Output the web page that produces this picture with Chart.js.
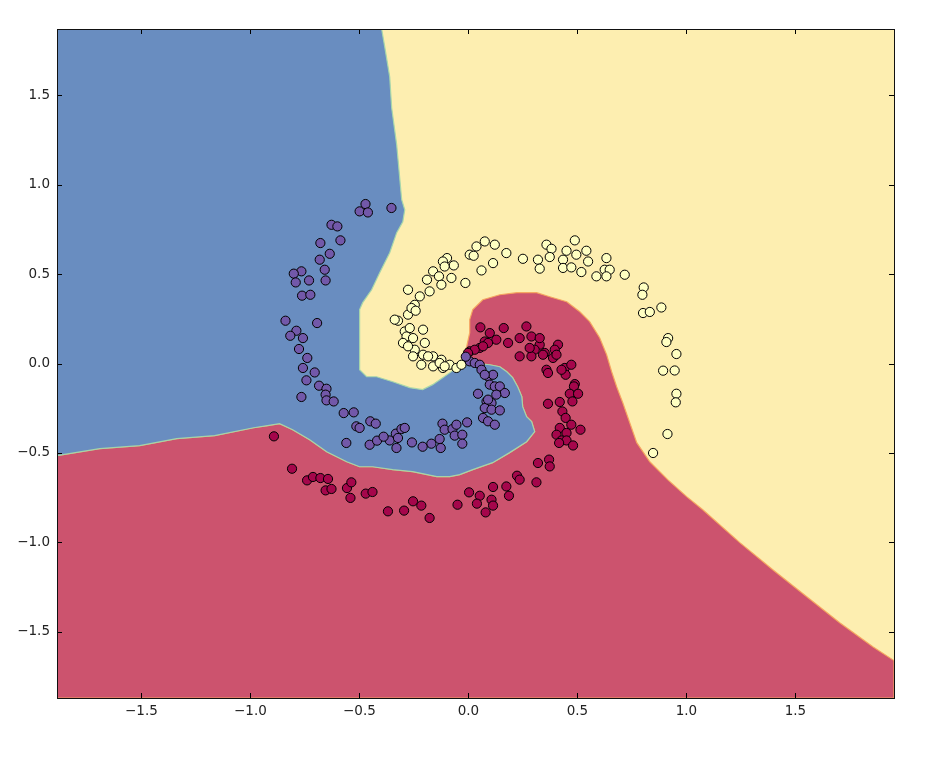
<!DOCTYPE html>
<html><head><meta charset="utf-8">
<script src="https://cdn.jsdelivr.net/npm/chart.js@4/dist/chart.umd.min.js"></script>
<style>html,body{margin:0;padding:0;background:#fff}#wrap{width:927px;height:760px;position:relative}</style>
</head><body><div id="wrap"><canvas id="c"></canvas></div>
<script>
// ---- axes ----
const xRange = [-1.887, 1.952];
const yRange = [-1.869, 1.869];
const xTicks = [-1.5, -1.0, -0.5, 0.0, 0.5, 1.0, 1.5];
const xTickLabels = ['\u22121.5', '\u22121.0', '\u22120.5', '0.0', '0.5', '1.0', '1.5'];
const yTicks = [-1.5, -1.0, -0.5, 0.0, 0.5, 1.0, 1.5];
const yTickLabels = ['\u22121.5', '\u22121.0', '\u22120.5', '0.0', '0.5', '1.0', '1.5'];

// ---- decision boundaries ----
const blueYellowBoundary = [
  [-0.398, 1.869], [-0.384, 1.770], [-0.361, 1.602], [-0.352, 1.429], [-0.329, 1.222],
  [-0.306, 0.915], [-0.292, 0.859], [-0.301, 0.792], [-0.329, 0.731], [-0.361, 0.619],
  [-0.407, 0.507], [-0.444, 0.412], [-0.485, 0.340], [-0.499, 0.301], [-0.499, -0.035],
  [-0.467, -0.074], [-0.421, -0.074], [-0.347, -0.102], [-0.269, -0.135], [-0.210, -0.146],
  [-0.164, -0.118], [-0.118, -0.079], [-0.072, -0.040], [-0.026, 0.021]
];
const blueRedBoundary = [
  [0.006, 0.004], [0.098, -0.007], [0.144, -0.018], [0.176, -0.046], [0.203, -0.079],
  [0.226, -0.130], [0.245, -0.185], [0.249, -0.241], [0.267, -0.297], [0.290, -0.325],
  [0.304, -0.381], [0.267, -0.437], [0.189, -0.498], [0.111, -0.554], [0.020, -0.593],
  [-0.040, -0.621], [-0.086, -0.632], [-0.145, -0.632], [-0.256, -0.604], [-0.347, -0.593],
  [-0.439, -0.577], [-0.499, -0.577], [-0.558, -0.549], [-0.650, -0.493], [-0.728, -0.426],
  [-0.806, -0.370], [-0.866, -0.336], [-0.921, -0.347], [-0.985, -0.359], [-1.164, -0.403],
  [-1.338, -0.420], [-1.508, -0.459], [-1.691, -0.476], [-1.887, -0.515]
];
const redYellowBoundary = [
  [-0.026, 0.032], [-0.008, 0.094], [0.006, 0.172], [0.006, 0.245], [0.020, 0.301],
  [0.066, 0.356], [0.144, 0.384], [0.222, 0.396], [0.313, 0.396], [0.373, 0.373],
  [0.451, 0.345], [0.511, 0.289], [0.556, 0.234], [0.602, 0.144], [0.634, 0.049],
  [0.657, -0.046], [0.680, -0.130], [0.708, -0.219], [0.740, -0.331], [0.772, -0.442],
  [0.832, -0.549], [0.914, -0.649], [1.001, -0.744], [1.075, -0.817], [1.245, -1.001],
  [1.396, -1.152], [1.552, -1.303], [1.703, -1.448], [1.855, -1.582], [1.952, -1.660]
];

// ---- samples ----
const purplePoints = [
  [-0.472,0.891],[-0.499,0.850],[-0.461,0.844],[-0.353,0.869],
  [-0.628,0.775],[-0.601,0.766],[-0.587,0.688],[-0.679,0.673],
  [-0.636,0.613],[-0.682,0.580],[-0.659,0.524],[-0.766,0.515],
  [-0.801,0.502],[-0.792,0.453],[-0.731,0.464],[-0.655,0.464],
  [-0.763,0.379],[-0.725,0.384],[-0.839,0.239],[-0.694,0.226],
  [-0.789,0.183],[-0.817,0.155],[-0.759,0.142],[-0.777,0.081],
  [-0.739,0.031],[-0.759,-0.025],[-0.705,-0.050],[-0.743,-0.094],
  [-0.685,-0.124],[-0.651,-0.141],[-0.655,-0.174],[-0.651,-0.206],
  [-0.618,-0.212],[-0.766,-0.187],[-0.572,-0.277],[-0.526,-0.273],
  [-0.514,-0.351],[-0.499,-0.360],[-0.450,-0.323],[-0.425,-0.336],
  [-0.560,-0.444],[-0.453,-0.454],[-0.419,-0.431],[-0.361,-0.430],
  [-0.333,-0.392],[-0.323,-0.416],[-0.330,-0.472],[-0.307,-0.366],
  [-0.292,-0.360],[-0.259,-0.441],[-0.170,-0.448],[-0.132,-0.422],
  [-0.127,-0.472],[-0.119,-0.336],[-0.109,-0.370],[-0.073,-0.366],
  [-0.063,-0.403],[-0.055,-0.342],[-0.028,-0.398],[-0.028,-0.448],
  [-0.006,-0.329],[0.044,-0.169],[0.090,-0.072],[0.113,-0.063],
  [0.098,-0.118],[0.121,-0.128],[0.144,-0.128],[0.167,-0.165],
  [0.128,-0.174],[0.083,-0.212],[0.106,-0.221],[0.075,-0.249],
  [0.106,-0.258],[0.144,-0.262],[0.067,-0.304],[0.090,-0.323],
  [0.121,-0.342],[0.006,0.012],[0.029,0.003],[0.052,-0.007],
  [0.060,-0.035],[0.075,-0.063],[-0.012,0.038],[0.090,-0.202],
  [-0.210,-0.465],[-0.389,-0.409]
];
const yellowPoints = [
  [0.075,0.682],[0.037,0.654],[0.121,0.664],[0.174,0.617],[0.006,0.608],
  [0.024,0.602],[-0.098,0.589],[-0.117,0.570],[-0.067,0.548],[-0.109,0.542],
  [0.060,0.520],[0.113,0.561],[-0.162,0.515],[-0.190,0.468],[-0.135,0.487],
  [-0.078,0.478],[-0.124,0.440],[-0.014,0.450],[-0.178,0.403],[-0.277,0.412],
  [-0.223,0.375],[-0.246,0.328],[-0.277,0.273],[-0.261,0.310],[-0.242,0.295],
  [-0.323,0.239],[-0.338,0.245],[-0.292,0.179],[-0.269,0.198],[-0.208,0.189],
  [-0.284,0.151],[-0.254,0.142],[-0.200,0.115],[-0.300,0.115],[-0.246,0.077],
  [-0.208,0.049],[-0.254,0.040],[-0.162,0.040],[-0.124,0.021],[-0.086,-0.007],
  [-0.055,-0.025],[-0.216,-0.007],[-0.162,-0.016],[-0.117,-0.025],[-0.032,-0.007],
  [-0.277,0.096],[-0.185,0.040],[-0.132,0.003],[-0.109,-0.016],
  [0.250,0.585],[0.319,0.580],[0.358,0.664],[0.381,0.641],[0.373,0.595],
  [0.327,0.530],[0.434,0.580],[0.450,0.630],[0.488,0.688],[0.495,0.608],
  [0.541,0.630],[0.549,0.570],[0.434,0.534],[0.472,0.537],[0.518,0.511],
  [0.587,0.487],[0.633,0.589],[0.625,0.524],[0.648,0.524],[0.633,0.487],
  [0.717,0.496],[0.804,0.425],[0.798,0.384],[0.801,0.282],[0.832,0.288],
  [0.885,0.313],[0.916,0.142],[0.908,0.120],[0.954,0.053],[0.893,-0.040],
  [0.946,-0.039],[0.954,-0.169],[0.951,-0.217],[0.913,-0.394],[0.847,-0.500]
];
const redPoints = [
  [0.055,0.202],[0.098,0.170],[0.162,0.198],[0.266,0.207],[0.289,0.151],
  [0.235,0.142],[0.128,0.133],[0.075,0.123],[0.182,0.115],[0.052,0.087],
  [0.006,0.068],[0.029,0.077],[0.327,0.105],[0.411,0.105],[0.396,0.077],
  [0.350,0.059],[0.304,0.077],[0.235,0.040],[0.289,0.040],[0.388,0.031],
  [0.358,-0.035],[0.365,-0.053],[0.442,-0.025],[0.472,-0.007],[0.446,-0.063],
  [0.488,-0.115],[0.090,0.115],[0.067,0.096],[-0.002,0.059],[0.327,0.142],
  [0.281,0.087],[0.404,0.049],[0.342,0.049],[0.427,-0.035],[0.484,-0.128],
  [0.465,-0.169],[0.503,-0.169],[0.477,-0.212],[0.419,-0.215],[0.365,-0.225],
  [0.431,-0.268],[0.446,-0.304],[0.472,-0.342],[0.514,-0.370],[0.419,-0.360],
  [0.404,-0.398],[0.450,-0.388],[0.427,-0.430],[0.450,-0.430],[0.480,-0.458],
  [0.416,-0.444],[0.370,-0.537],[0.319,-0.556],[0.373,-0.575],[0.223,-0.627],
  [0.235,-0.649],[0.312,-0.664],[0.003,-0.720],[0.052,-0.739],[0.113,-0.690],
  [0.174,-0.687],[0.186,-0.739],[0.106,-0.761],[0.039,-0.783],[0.113,-0.794],
  [0.079,-0.832],[-0.892,-0.407],[-0.809,-0.588],[-0.740,-0.653],[-0.713,-0.634],
  [-0.679,-0.640],[-0.644,-0.645],[-0.655,-0.709],[-0.628,-0.701],[-0.557,-0.696],
  [-0.537,-0.664],[-0.541,-0.751],[-0.471,-0.727],[-0.440,-0.718],[-0.369,-0.826],
  [-0.295,-0.822],[-0.254,-0.770],[-0.216,-0.794],[-0.178,-0.863],[-0.050,-0.789]
];

// ---- colours ----
const C_YELLOW_REGION = '#fdeeb0';
const C_BLUE_REGION = '#698dc0';
const C_RED_REGION = '#cc536e';

const toXY = arr => arr.map(([x, y]) => ({x, y}));
const bluePolygon = [[xRange[0], yRange[1]], ...blueYellowBoundary, ...blueRedBoundary, [xRange[0], yRange[1]]];
const redPolygon = [[xRange[0], yRange[0]], ...blueRedBoundary.slice().reverse(), ...redYellowBoundary,
  [xRange[1], yRange[0]], [xRange[0], yRange[0]]];

const bgPlugin = {
  id: 'bg',
  beforeDatasetsDraw(chart) {
    const {ctx, chartArea: a} = chart;
    ctx.save();
    ctx.fillStyle = C_YELLOW_REGION;
    ctx.fillRect(a.left, a.top, a.right - a.left, a.bottom - a.top);
    ctx.restore();
  }
};
const framePlugin = {
  id: 'frame',
  afterDraw(chart) {
    const {ctx, chartArea: a, scales} = chart;
    ctx.save();
    ctx.strokeStyle = '#000';
    ctx.lineWidth = 1;
    const L = 5;
    ctx.beginPath();
    xTicks.forEach(v => {
      const px = Math.round(scales.x.getPixelForValue(v)) + 0.5;
      ctx.moveTo(px, a.bottom); ctx.lineTo(px, a.bottom - L);
      ctx.moveTo(px, a.top); ctx.lineTo(px, a.top + L);
    });
    yTicks.forEach(v => {
      const py = Math.round(scales.y.getPixelForValue(v)) + 0.5;
      ctx.moveTo(a.left, py); ctx.lineTo(a.left + L, py);
      ctx.moveTo(a.right, py); ctx.lineTo(a.right - L, py);
    });
    ctx.stroke();
    ctx.strokeStyle = '#111';
    ctx.strokeRect(Math.round(a.left) + 0.5, Math.round(a.top) + 0.5,
      Math.round(a.right - a.left), Math.round(a.bottom - a.top));
    ctx.restore();
  }
};

const tickFont = {family: 'DejaVu Sans', size: 13.5};
new Chart(document.getElementById('c'), {
  type: 'scatter',
  data: {
    datasets: [
      {type: 'scatter', label: 'class 2', data: toXY(purplePoints), backgroundColor: '#7258a9',
        borderColor: '#000', borderWidth: 1, pointRadius: 4.6, order: 0},
      {type: 'scatter', label: 'class 1', data: toXY(yellowPoints), backgroundColor: '#ffffc2',
        borderColor: '#000', borderWidth: 1, pointRadius: 4.6, order: 1},
      {type: 'scatter', label: 'class 0', data: toXY(redPoints), backgroundColor: '#a5064b',
        borderColor: '#000', borderWidth: 1, pointRadius: 4.6, order: 2},
      {type: 'line', label: 'region 2', data: toXY(bluePolygon), backgroundColor: C_BLUE_REGION,
        borderColor: 'rgba(165,215,170,0.95)', borderWidth: 1.2, pointRadius: 0, tension: 0,
        fill: 'shape', order: 3},
      {type: 'line', label: 'region 0', data: toXY(redPolygon), backgroundColor: C_RED_REGION,
        borderColor: 'rgba(245,165,95,0.95)', borderWidth: 1.2, pointRadius: 0, tension: 0,
        fill: 'shape', order: 4}
    ]
  },
  options: {
    responsive: true,
    maintainAspectRatio: false,
    animation: false,
    layout: {padding: {left: 0, top: 29, right: 33, bottom: 0}},
    plugins: {legend: {display: false}, tooltip: {enabled: false}},
    scales: {
      x: {
        type: 'linear', min: xRange[0], max: xRange[1],
        afterBuildTicks: s => { s.ticks = xTicks.map(v => ({value: v})); },
        afterFit: s => { s.height = 62; },
        grid: {display: false, drawTicks: false}, border: {display: false},
        ticks: {font: tickFont, color: '#222', padding: 5, maxRotation: 0,
          callback: (v, i) => xTickLabels[i]}
      },
      y: {
        type: 'linear', min: yRange[0], max: yRange[1],
        afterBuildTicks: s => { s.ticks = yTicks.map(v => ({value: v})); },
        afterFit: s => { s.width = 57; },
        grid: {display: false, drawTicks: false}, border: {display: false},
        ticks: {font: tickFont, color: '#222', padding: 7,
          callback: (v, i) => yTickLabels[i]}
      }
    }
  },
  plugins: [bgPlugin, framePlugin]
});
</script></body></html>
